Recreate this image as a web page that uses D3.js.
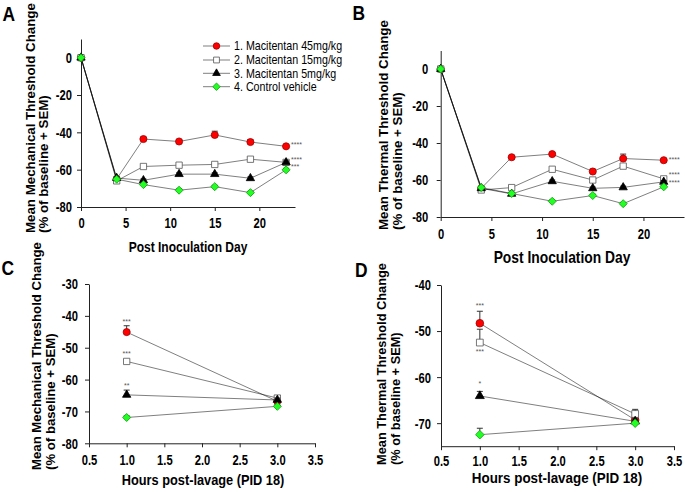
<!DOCTYPE html>
<html>
<head>
<meta charset="utf-8">
<script src="https://cdn.jsdelivr.net/npm/d3@7"></script>
<style>
  html, body { margin: 0; padding: 0; background: #fff; }
  svg { display: block; font-family: "Liberation Sans", Arial, Helvetica, sans-serif; }
</style>
</head>
<body>
<svg id="chart" width="685" height="492"></svg>
<script>
// ---------------- DATA ----------------
const seriesNames = ["1. Macitentan 45mg/kg", "2. Macitentan 15mg/kg", "3. Macitentan 5mg/kg", "4. Control vehicle"];

// Panel A: mechanical threshold by post inoculation day
const daysA = [0, 4, 7, 11, 15, 19, 23];
const mechRed    = [0, -65.0, -43.6, -44.9, -41.4, -45.2, -47.5];
const mechSquare = [0, -66.0, -58.3, -57.6, -57.2, -54.4, -56.1];
const mechTri    = [0, -64.5, -65.7, -62.4, -62.4, -64.6, -56.1];
const mechGreen  = [0, -65.1, -68.0, -71.0, -69.1, -72.3, -60.1];
const mechRedErr    = [0, 0.8, 1.0, 0.8, 2.0, 1.3, 0.8];
const mechSquareErr = [0, 0.8, 0.8, 0.7, 0.7, 0.8, 0.7];
const mechTriErr    = [0, 0.8, 0.7, 0.7, 0.7, 0.7, 0.8];
const mechGreenErr  = [0, 0.7, 0.8, 0.7, 0.7, 0.7, 0.8];
const mechStars = ["****", "****", "***", ""];

// Panel B: thermal threshold by post inoculation day
const daysB = [0, 4, 7, 11, 15, 18, 22];
const thermRed    = [0, -64.5, -47.7, -46.0, -55.4, -48.4, -49.3];
const thermSquare = [0, -65.4, -64.1, -54.2, -60.0, -52.5, -59.4];
const thermTri    = [0, -64.5, -67.5, -60.7, -64.5, -64.0, -61.0];
const thermGreen  = [0, -64.1, -67.3, -71.5, -68.4, -72.8, -63.7];
const thermRedErr    = [0, 0.8, 0.7, 0.8, 1.2, 2.4, 0.7];
const thermSquareErr = [0, 0.8, 0.8, 0.8, 0.8, 1.0, 0.8];
const thermTriErr    = [0, 0.8, 0.7, 0.7, 0.7, 0.7, 0.7];
const thermGreenErr  = [0, 0.7, 0.7, 0.7, 0.7, 0.7, 0.7];
const thermStars = ["****", "****", "****", ""];

// Panel C: mechanical threshold, hours post-lavage (PID 18)
const hoursC = [1.0, 3.0];
const lavMechRed    = [-45.1, -66.8];
const lavMechSquare = [-54.3, -65.8];
const lavMechTri    = [-64.8, -66.4];
const lavMechGreen  = [-71.9, -68.4];
const lavMechRedErr    = [2.0, 0.6];
const lavMechSquareErr = [0.6, 0.8];
const lavMechTriErr    = [1.5, 0.6];
const lavMechGreenErr  = [0.5, 0.5];
const lavMechStars = ["***", "***", "**", ""];

// Panel D: thermal threshold, hours post-lavage (PID 18)
const hoursD = [1.0, 3.0];
const lavThermRed    = [-48.3, -69.3];
const lavThermSquare = [-52.5, -68.0];
const lavThermTri    = [-64.1, -69.6];
const lavThermGreen  = [-72.5, -70.0];
const lavThermRedErr    = [2.6, 0.5];
const lavThermSquareErr = [2.9, 1.0];
const lavThermTriErr    = [1.0, 0.5];
const lavThermGreenErr  = [1.4, 0.4];
const lavThermStars = ["***", "***", "*", ""];

// tick values
const ticksDays = [0, 5, 10, 15, 20];
const ticksThresh = [0, -20, -40, -60, -80];
const ticksHours = [0.5, 1.0, 1.5, 2.0, 2.5, 3.0, 3.5];
const ticksLavMech = [-30, -40, -50, -60, -70, -80];
const ticksLavTherm = [-40, -50, -60, -70];

// ---------------- DRAWING ----------------
const SX = 0.87;   // horizontal glyph compression of reference
const TSX = 0.8;   // compression for tick labels
const svg = d3.select("#chart");
const FONT = '"Liberation Sans", Arial, Helvetica, sans-serif';

const styles = [
  { type: d3.symbolCircle, size: 40, fill: "#ff0000", stroke: "#9a0000", rot: 0 },
  { type: d3.symbolSquare, size: 40, fill: "#ffffff", stroke: "#555555", rot: 0 },
  { type: d3.symbolTriangle, size: 30, fill: "#000000", stroke: "#000000", rot: 0 },
  { type: d3.symbolSquare, size: 32, fill: "#22ff22", stroke: "#11a011", rot: 45 }
];

function hText(g, x, y, str, size, opts = {}) {
  return g.append("text")
    .attr("transform", `translate(${x},${y}) scale(${opts.sx || SX},1)`)
    .attr("text-anchor", opts.anchor || "start")
    .attr("dy", opts.dy || "0.35em")
    .attr("font-size", size)
    .attr("font-weight", opts.weight || "normal")
    .attr("fill", opts.fill || "#000")
    .text(str);
}

function drawPanel(cfg) {
  const g = svg.append("g");
  const x = d3.scaleLinear().domain(cfg.xDom).range(cfg.xRange);
  const y = d3.scaleLinear().domain(cfg.yDom).range(cfg.yRange);

  // axes
  const xAxis = d3.axisBottom(x).tickValues(cfg.xTicks).tickSize(4).tickSizeOuter(0)
    .tickFormat(cfg.xFmt);
  const yAxis = d3.axisLeft(y).tickValues(cfg.yTicks).tickSize(4).tickSizeOuter(0)
    .tickFormat(d => String(d));

  const gx = g.append("g").attr("transform", `translate(0,${cfg.yRange[0]})`).call(xAxis);
  const gy = g.append("g").attr("transform", `translate(${cfg.xRange[0]},0)`).call(yAxis);
  [gx, gy].forEach(a => {
    a.select(".domain").attr("stroke", "#222").attr("stroke-width", 1);
    a.selectAll(".tick line").attr("stroke", "#222");
    a.selectAll("text").attr("font-family", FONT).attr("font-size", cfg.tickFont)
      .attr("font-weight", "bold").attr("fill", "#000");
  });
  gx.selectAll("text").attr("y", cfg.xLabOff).attr("dy", "0.35em").attr("transform", `scale(${TSX},1)`)
    .attr("x", 0);
  gy.selectAll("text").attr("x", -cfg.yLabGap / TSX).attr("dy", "0.35em").attr("transform", `scale(${TSX},1)`);
  // x tick labels: scaling around the tick origin keeps them centred
  gx.selectAll(".tick text").attr("transform", `scale(${TSX},1)`);

  // connecting lines
  const line = d3.line().x(d => x(d[0])).y(d => y(d[1]));
  cfg.series.forEach(s => {
    g.append("path")
      .datum(cfg.xs.map((xv, i) => [xv, s.vals[i]]))
      .attr("d", line)
      .attr("fill", "none")
      .attr("stroke", "#000")
      .attr("stroke-opacity", 0.5)
      .attr("stroke-width", 1);
  });

  // error bars + markers
  cfg.series.forEach((s, si) => {
    const st = styles[si];
    cfg.xs.forEach((xv, i) => {
      const e = s.errs[i];
      if (e > 0) {
        const px = x(xv), y0 = y(s.vals[i]), y1 = y(s.vals[i] + e);
        g.append("line").attr("x1", px).attr("x2", px).attr("y1", y0).attr("y2", y1)
          .attr("stroke", "#333").attr("stroke-width", 1);
        g.append("line").attr("x1", px - 3).attr("x2", px + 3).attr("y1", y1).attr("y2", y1)
          .attr("stroke", "#333").attr("stroke-width", 1);
      }
    });
    g.selectAll(null).data(cfg.xs.map((xv, i) => [xv, s.vals[i]])).enter()
      .append("path")
      .attr("d", d3.symbol().type(st.type).size(st.size * (cfg.markScale || 1)))
      .attr("transform", d => `translate(${x(d[0])},${y(d[1])}) rotate(${st.rot})`)
      .attr("fill", st.fill)
      .attr("stroke", st.stroke)
      .attr("stroke-width", 0.8);
  });

  // significance stars
  cfg.series.forEach((s, si) => {
    const str = cfg.stars[si];
    if (!str) return;
    const p = cfg.starPos[si];
    const idx = p.idx;
    const px = x(cfg.xs[idx]) + p.dx;
    const base = p.ref === "top" ? y(s.vals[idx] + s.errs[idx]) : y(s.vals[idx]);
    g.append("text")
      .attr("x", px).attr("y", base + p.dy + 3)
      .attr("text-anchor", p.anchor)
      .attr("font-size", 7)
      .attr("fill", "#555")
      .text(str);
  });

  // axis title
  hText(g, cfg.title.x, cfg.title.y, cfg.title.text, cfg.title.size, { anchor: "middle", weight: "bold" });

  // y label (two lines, rotated)
  cfg.ylab.lines.forEach((t, i) => {
    g.append("text")
      .attr("transform", `translate(${cfg.ylab.xs[i] + 0.3 * cfg.ylab.size},${cfg.ylab.bottom}) rotate(-90)`)
      .attr("text-anchor", "start")
      .attr("font-size", cfg.ylab.size)
      .attr("font-weight", "bold")
      .text(t);
  });

  // panel letter
  hText(g, cfg.letter.x, cfg.letter.y, cfg.letter.text, 20, { weight: "bold", dy: "0" });

  return { g, x, y };
}

const mechLab = ["Mean Mechanical Threshold Change", "(% of baseline + SEM)"];
const thermLab = ["Mean Thermal Threshold Change", "(% of baseline + SEM)"];
const fmtInt = d => String(d);
const fmt1 = d => d.toFixed(1);

// Panel A
const pA = drawPanel({
  xDom: [0, 24], xRange: [81, 295], yDom: [-80, 10], yRange: [207, 39],
  xTicks: ticksDays, yTicks: ticksThresh, xFmt: fmtInt, tickFont: 14,
  xLabOff: 16, yLabGap: 9, xs: daysA,
  series: [
    { vals: mechRed, errs: mechRedErr },
    { vals: mechSquare, errs: mechSquareErr },
    { vals: mechTri, errs: mechTriErr },
    { vals: mechGreen, errs: mechGreenErr }
  ],
  stars: mechStars,
  starPos: [
    { idx: 6, dx: 5, dy: -2, anchor: "start", ref: "val" },
    { idx: 6, dx: 5, dy: -3, anchor: "start", ref: "val" },
    { idx: 6, dx: 5, dy: 3.5, anchor: "start", ref: "val" }
  ],
  title: { x: 188, y: 247, text: "Post Inoculation Day", size: 13.8 },
  ylab: { lines: mechLab, xs: [31, 44.5], bottom: 233, size: 13.3 },
  letter: { x: 2.5, y: 20.7, text: "A" }
});

// legend in panel A
const legRows = [46, 60, 73.3, 86.7];
seriesNames.forEach((name, i) => {
  const st = styles[i];
  pA.g.append("line").attr("x1", 203).attr("x2", 230).attr("y1", legRows[i]).attr("y2", legRows[i])
    .attr("stroke", "#000").attr("stroke-opacity", 0.5).attr("stroke-width", 1);
  pA.g.append("path")
    .attr("d", d3.symbol().type(st.type).size(st.size * 0.85))
    .attr("transform", `translate(216.5,${legRows[i]}) rotate(${st.rot})`)
    .attr("fill", st.fill).attr("stroke", st.stroke).attr("stroke-width", 0.8);
  hText(pA.g, 234, legRows[i], name, 12.3);
});

// Panel B
drawPanel({
  xDom: [0, 24], xRange: [440.7, 684], yDom: [-80, 10], yRange: [217, 50.5],
  xTicks: ticksDays, yTicks: ticksThresh, xFmt: fmtInt, tickFont: 14,
  xLabOff: 16.7, yLabGap: 12.4, xs: daysB,
  series: [
    { vals: thermRed, errs: thermRedErr },
    { vals: thermSquare, errs: thermSquareErr },
    { vals: thermTri, errs: thermTriErr },
    { vals: thermGreen, errs: thermGreenErr }
  ],
  stars: thermStars,
  starPos: [
    { idx: 6, dx: 5, dy: -1, anchor: "start", ref: "val" },
    { idx: 6, dx: 5, dy: -5, anchor: "start", ref: "val" },
    { idx: 6, dx: 5, dy: 0, anchor: "start", ref: "val" }
  ],
  title: { x: 562, y: 257, text: "Post Inoculation Day", size: 15.9 },
  ylab: { lines: thermLab, xs: [384.5, 398], bottom: 230, size: 13.3 },
  letter: { x: 352.5, y: 20, text: "B" }
});

// Panel C
drawPanel({
  xDom: [0.5, 3.5], xRange: [89, 315], yDom: [-80, -30], yRange: [443.3, 284],
  xTicks: ticksHours, yTicks: ticksLavMech, xFmt: fmt1, tickFont: 14,
  xLabOff: 16.7, yLabGap: 11, xs: hoursC,
  series: [
    { vals: lavMechRed, errs: lavMechRedErr },
    { vals: lavMechSquare, errs: lavMechSquareErr },
    { vals: lavMechTri, errs: lavMechTriErr },
    { vals: lavMechGreen, errs: lavMechGreenErr }
  ],
  stars: lavMechStars,
  starPos: [
    { idx: 0, dx: 0, dy: -5, anchor: "middle", ref: "top" },
    { idx: 0, dx: 0, dy: -6.5, anchor: "middle", ref: "top" },
    { idx: 0, dx: 0, dy: -5, anchor: "middle", ref: "top" }
  ],
  title: { x: 203, y: 480, text: "Hours post-lavage (PID 18)", size: 14.7 },
  ylab: { lines: mechLab, xs: [37, 51.5], bottom: 470, size: 13.2 },
  letter: { x: 1.5, y: 275, text: "C" }
});

// Panel D
drawPanel({
  xDom: [0.5, 3.5], xRange: [441, 674], yDom: [-75, -40], yRange: [446.2, 285],
  xTicks: ticksHours, yTicks: ticksLavTherm, xFmt: fmt1, tickFont: 14,
  xLabOff: 15, yLabGap: 10, xs: hoursD, markScale: 1.15,
  series: [
    { vals: lavThermRed, errs: lavThermRedErr },
    { vals: lavThermSquare, errs: lavThermSquareErr },
    { vals: lavThermTri, errs: lavThermTriErr },
    { vals: lavThermGreen, errs: lavThermGreenErr }
  ],
  stars: lavThermStars,
  starPos: [
    { idx: 0, dx: 0, dy: -6.5, anchor: "middle", ref: "top" },
    { idx: 0, dx: 0, dy: 8.3, anchor: "middle", ref: "val" },
    { idx: 0, dx: 0, dy: -8.4, anchor: "middle", ref: "top" }
  ],
  title: { x: 557, y: 478, text: "Hours post-lavage (PID 18)", size: 15.4 },
  ylab: { lines: thermLab, xs: [382.5, 396], bottom: 465, size: 12.8 },
  letter: { x: 355, y: 276.7, text: "D" }
});
</script>
</body>
</html>
